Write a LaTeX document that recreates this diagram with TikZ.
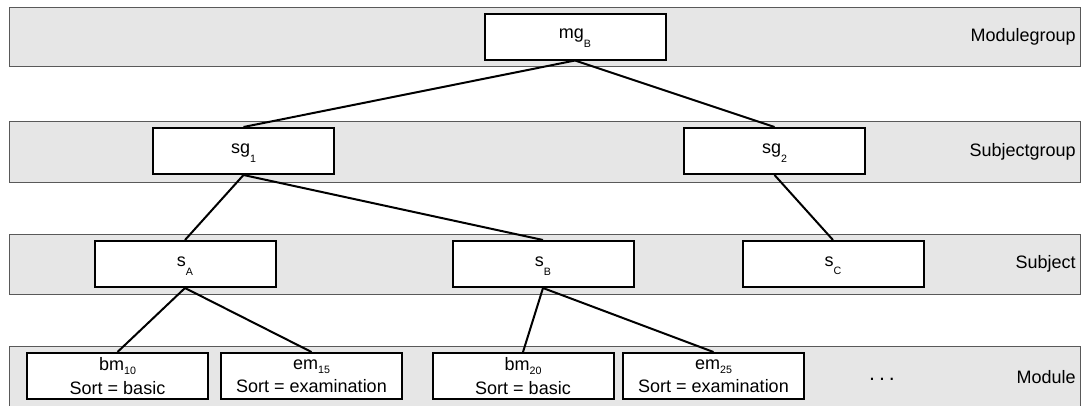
\documentclass[tikz,border=0pt]{standalone}
\usepackage{fontspec}
\setmainfont{Liberation Sans}
\usepackage{tikz}
\usetikzlibrary{calc}
\definecolor{bandgray}{RGB}{230,230,230}
\tikzstyle{band}=[fill=bandgray, draw=black!65, line width=.75pt]
\tikzstyle{box}=[draw, fill=white, line width=1.5pt, minimum width=135.75pt, minimum height=34.5pt, inner sep=0pt]
\tikzstyle{entity}=[box, text height=10pt]
\tikzstyle{module}=[box, align=center, execute at begin node=\rule{0pt}{17pt}, font=\fontsize{13.5}{17.5}\selectfont]
\tikzstyle{link}=[line width=1.5pt]
\newcommand{\lsub}[2][6.5pt]{\raisebox{-#1}{\fontsize{8}{9}\selectfont #2}}
\newcommand{\layer}[4]{
 \draw[band] (9,#1) rectangle (1080,#2);
 \node[anchor=east, inner sep=0pt] (#3) at (1076,{(#1+#2)/2}) {#4};
}

\begin{document}
\begin{tikzpicture}[x=.75pt, y=-.75pt, font=\fontsize{13.5}{16}\selectfont]
 \useasboundingbox (0,0) rectangle (1083,405);
%
 \layer{7}{66}{lmg}{Modulegroup}
 \layer{121}{182}{lsg}{Subjectgroup}
 \layer{234}{294}{ls}{Subject}
 \layer{346}{408}{lm}{Module}
%
 \node[entity] (mgB) at (575,36.5) {mg\lsub{B}};
 \node[entity] (sg1) at (243.5,151) {sg\lsub{1}};
 \node[entity] (sg2) at (774.5,151) {sg\lsub{2}};
 \node[entity] (sA) at (185,264) {s\lsub{A}};
 \node[entity] (sB) at (543,264) {s\lsub{B}};
 \node[entity] (sC) at (833,264) {s\lsub{C}};
 \node[module] (bm10) at (117.5,376) {bm\lsub[3pt]{10}\\Sort = basic};
 \node[module] (em15) at (311.5,376) {em\lsub[3pt]{15}\\Sort = examination};
 \node[module] (bm20) at (523,376) {bm\lsub[3pt]{20}\\Sort = basic};
 \node[module] (em25) at (713.5,376) {em\lsub[3pt]{25}\\Sort = examination};
 \node[font=\fontsize{16}{18}\selectfont] (more) at (882,379) {.\kern3pt.\kern3pt.};
%
 \draw[link] (mgB.south) -- (sg1.north);
 \draw[link] (mgB.south) -- (sg2.north);
 \draw[link] (sg1.south) -- (sA.north);
 \draw[link] (sg1.south) -- (sB.north);
 \draw[link] (sg2.south) -- (sC.north);
 \draw[link] (sA.south) -- (bm10.north);
 \draw[link] (sA.south) -- (em15.north);
 \draw[link] (sB.south) -- (bm20.north);
 \draw[link] (sB.south) -- (em25.north);
\end{tikzpicture}
\end{document}
